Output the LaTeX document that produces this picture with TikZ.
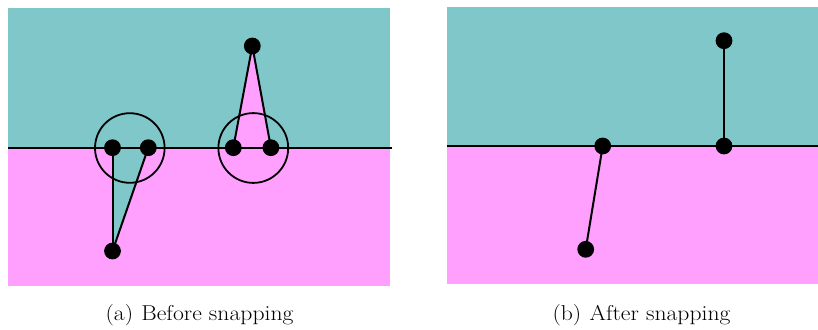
\documentclass[tikz,border=0pt]{standalone}
\definecolor{teal1}{RGB}{128,199,202}
\definecolor{pink1}{RGB}{255,160,255}
\begin{document}
\begin{tikzpicture}[x=1pt,y=-1pt,
  dot/.style={circle,fill=black,inner sep=0pt,minimum size=16.8pt},
  edge/.style={draw=black,line width=2pt},
  ring/.style={draw=black,line width=1.8pt},
  caption/.style={font=\fontsize{21.5}{24}\selectfont,anchor=base}]
\useasboundingbox (0,0) rectangle (818,329);
% panel a
\fill[teal1] (8,8.3) rectangle (390,147.7);
\fill[pink1] (8,147.7) rectangle (390,285.5);
\coordinate (a1) at (112.5,147.7);
\coordinate (a2) at (148.3,147.7);
\coordinate (a3) at (112.5,251);
\coordinate (b1) at (233.3,147.7);
\coordinate (b2) at (270.9,147.7);
\coordinate (b3) at (252.3,46);
\fill[teal1] (a1) -- (a2) -- (a3) -- cycle;
\fill[pink1] (b1) -- (b2) -- (b3) -- cycle;
\coordinate (la) at (8,147.7);
\coordinate (ra) at (391.5,147.7);
\draw[edge] (la) -- (ra);
\draw[ring] (129.8,148) circle (34.8);
\draw[ring] (253.3,148) circle (34.9);
\draw[edge] (a3) -- (a1);
\draw[edge] (a3) -- (a2);
\draw[edge] (b3) -- (b1);
\draw[edge] (b3) -- (b2);
\node[dot] (na1) at (a1) {};
\node[dot] (na2) at (a2) {};
\node[dot] (na3) at (a3) {};
\node[dot] (nb1) at (b1) {};
\node[dot] (nb2) at (b2) {};
\node[dot] (nb3) at (b3) {};
% panel b
\fill[teal1] (447.3,6.7) rectangle (818,146.2);
\fill[pink1] (447.3,146.2) rectangle (818,283.5);
\coordinate (lb) at (446.7,146.2);
\coordinate (rb) at (818,146.2);
\draw[edge] (lb) -- (rb);
\coordinate (c1) at (602.7,146);
\coordinate (c2) at (585.7,249.3);
\coordinate (d1) at (724,146);
\coordinate (d2) at (724,40.7);
\draw[edge] (c2) -- (c1);
\draw[edge] (d2) -- (d1);
\node[dot] (nc1) at (c1) {};
\node[dot] (nc2) at (c2) {};
\node[dot] (nd1) at (d1) {};
\node[dot] (nd2) at (d2) {};
% captions
\node[caption] (capa) at (199.5,320.5) {\scalebox{1.1}[1]{(a)\hspace{0.35em}Before snapping}};
\node[caption] (capb) at (641.5,320.5) {\scalebox{1.1}[1]{(b)\hspace{0.35em}After snapping}};
\end{tikzpicture}
\end{document}
